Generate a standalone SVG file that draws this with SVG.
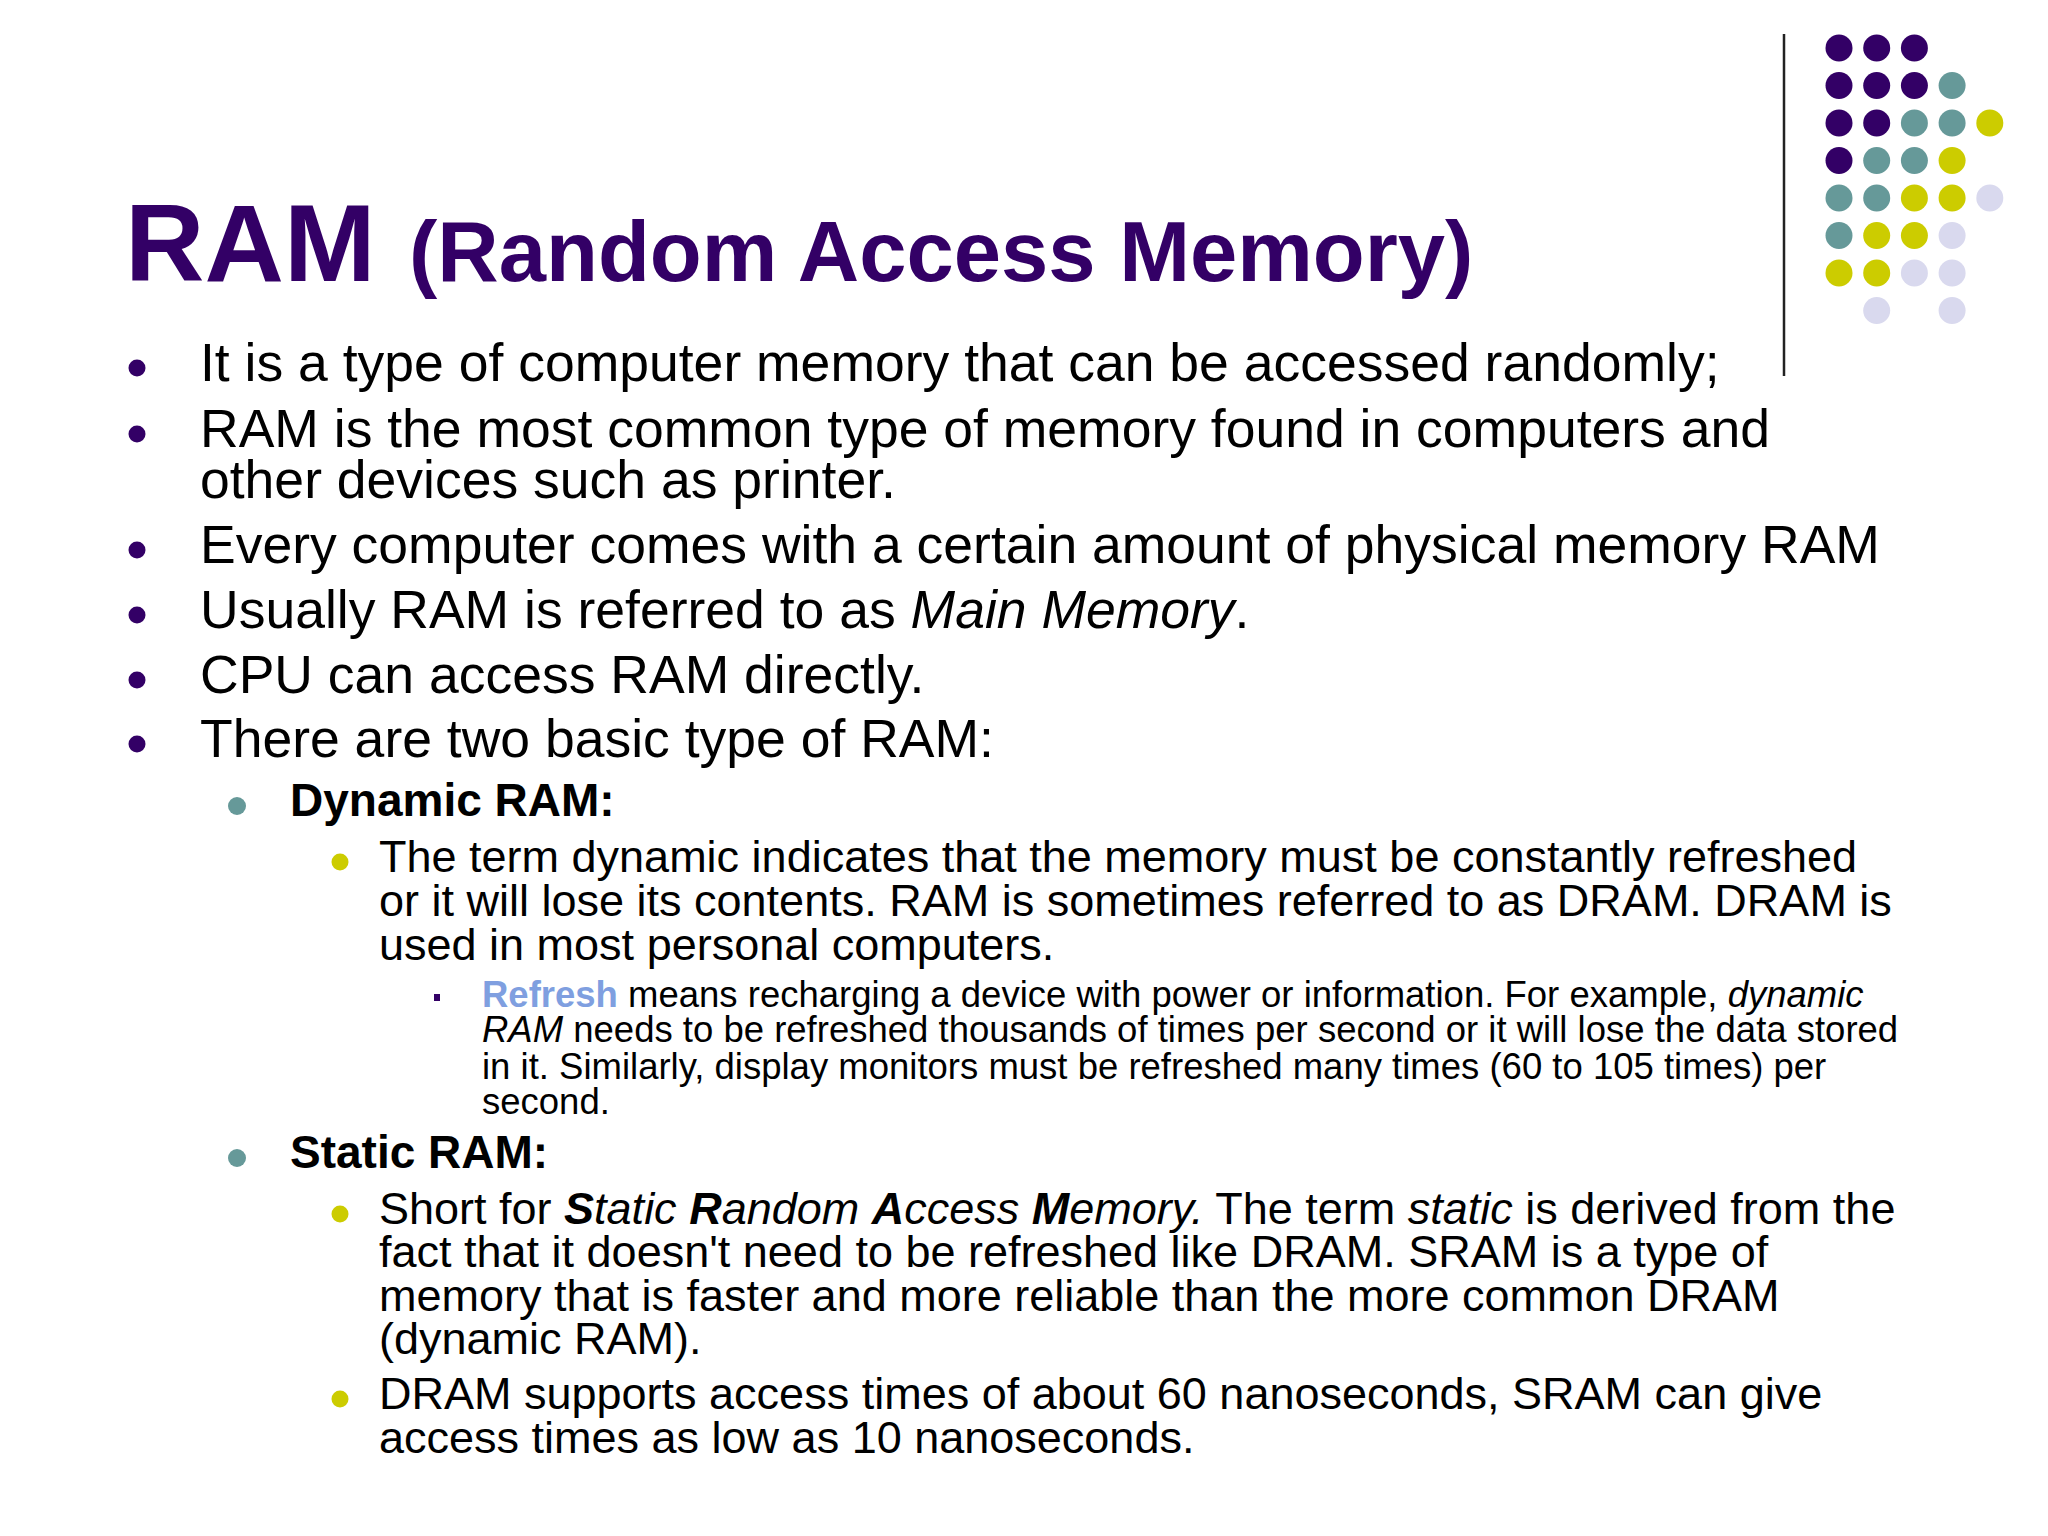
<svg xmlns="http://www.w3.org/2000/svg" width="2048" height="1536" viewBox="0 0 2048 1536">
<style>
text{font-family:"Liberation Sans",Arial,sans-serif;fill:#000}
.t1{font-size:53.5px}.t2{font-size:46px;font-weight:bold}.t3{font-size:45px}.t4{font-size:36.5px}
.P{fill:#330066}.T{fill:#669999}.Y{fill:#cccc00}.L{fill:#d9d9ee}
</style>
<rect width="2048" height="1536" fill="#fff"/>
<g id="decor">
<line x1="1784" y1="34" x2="1784" y2="376" stroke="#222" stroke-width="2.5"/>
<g transform="translate(1839,48)">
<circle class="P" cx="0" cy="0" r="13.5"/><circle class="P" cx="37.7" cy="0" r="13.5"/><circle class="P" cx="75.4" cy="0" r="13.5"/>
<circle class="P" cx="0" cy="37.5" r="13.5"/><circle class="P" cx="37.7" cy="37.5" r="13.5"/><circle class="P" cx="75.4" cy="37.5" r="13.5"/><circle class="T" cx="113.1" cy="37.5" r="13.5"/>
<circle class="P" cx="0" cy="75" r="13.5"/><circle class="P" cx="37.7" cy="75" r="13.5"/><circle class="T" cx="75.4" cy="75" r="13.5"/><circle class="T" cx="113.1" cy="75" r="13.5"/><circle class="Y" cx="150.8" cy="75" r="13.5"/>
<circle class="P" cx="0" cy="112.5" r="13.5"/><circle class="T" cx="37.7" cy="112.5" r="13.5"/><circle class="T" cx="75.4" cy="112.5" r="13.5"/><circle class="Y" cx="113.1" cy="112.5" r="13.5"/>
<circle class="T" cx="0" cy="150" r="13.5"/><circle class="T" cx="37.7" cy="150" r="13.5"/><circle class="Y" cx="75.4" cy="150" r="13.5"/><circle class="Y" cx="113.1" cy="150" r="13.5"/><circle class="L" cx="150.8" cy="150" r="13.5"/>
<circle class="T" cx="0" cy="187.5" r="13.5"/><circle class="Y" cx="37.7" cy="187.5" r="13.5"/><circle class="Y" cx="75.4" cy="187.5" r="13.5"/><circle class="L" cx="113.1" cy="187.5" r="13.5"/>
<circle class="Y" cx="0" cy="225" r="13.5"/><circle class="Y" cx="37.7" cy="225" r="13.5"/><circle class="L" cx="75.4" cy="225" r="13.5"/><circle class="L" cx="113.1" cy="225" r="13.5"/>
<circle class="L" cx="37.7" cy="262.5" r="13.5"/><circle class="L" cx="113.1" cy="262.5" r="13.5"/>
</g>
</g>
<g id="title">
<text x="125" y="281" style="font-size:110px;font-weight:bold;fill:#330066">RAM</text>
<text x="409" y="281" style="font-size:85px;font-weight:bold;fill:#330066">(Random Access Memory)</text>
</g>
<g id="bullets">
<circle class="P" cx="137" cy="368" r="8.5"/><circle class="P" cx="137" cy="434" r="8.5"/><circle class="P" cx="137" cy="550" r="8.5"/>
<circle class="P" cx="137" cy="615" r="8.5"/><circle class="P" cx="137" cy="680" r="8.5"/><circle class="P" cx="137" cy="744" r="8.5"/>
<circle class="T" cx="237" cy="806" r="9"/><circle class="T" cx="237" cy="1158" r="9"/>
<circle class="Y" cx="340" cy="862" r="8.5"/><circle class="Y" cx="340" cy="1214" r="8.5"/><circle class="Y" cx="340" cy="1399" r="8.5"/>
<rect class="P" x="434" y="994" width="6" height="7"/>
</g>
<g id="text">
<text class="t1" x="200" y="381">It is a type of computer memory that can be accessed randomly;</text>
<text class="t1" x="200" y="447">RAM is the most common type of memory found in computers and</text>
<text class="t1" x="200" y="498">other devices such as printer.</text>
<text class="t1" x="200" y="563">Every computer comes with a certain amount of physical memory RAM</text>
<text class="t1" x="200" y="628">Usually RAM is referred to as <tspan font-style="italic">Main Memory</tspan>.</text>
<text class="t1" x="200" y="693">CPU can access RAM directly.</text>
<text class="t1" x="200" y="757">There are two basic type of RAM:</text>
<text class="t2" x="290" y="816">Dynamic RAM:</text>
<text class="t3" x="379" y="872">The term dynamic indicates that the memory must be constantly refreshed</text>
<text class="t3" x="379" y="916">or it will lose its contents. RAM is sometimes referred to as DRAM. DRAM is</text>
<text class="t3" x="379" y="960">used in most personal computers.</text>
<text class="t4" x="482" y="1007"><tspan font-weight="bold" style="fill:#7f9fe0">Refresh</tspan> means recharging a device with power or information. For example, <tspan font-style="italic">dynamic</tspan></text>
<text class="t4" x="482" y="1042"><tspan font-style="italic">RAM</tspan> needs to be refreshed thousands of times per second or it will lose the data stored</text>
<text class="t4" x="482" y="1079">in it. Similarly, display monitors must be refreshed many times (60 to 105 times) per</text>
<text class="t4" x="482" y="1114">second.</text>
<text class="t2" x="290" y="1168">Static RAM:</text>
<text class="t3" x="379" y="1224">Short for <tspan font-style="italic"><tspan font-weight="bold">S</tspan>tatic <tspan font-weight="bold">R</tspan>andom <tspan font-weight="bold">A</tspan>ccess <tspan font-weight="bold">M</tspan>emory.</tspan> The term <tspan font-style="italic">static</tspan> is derived from the</text>
<text class="t3" x="379" y="1267">fact that it doesn't need to be refreshed like DRAM. SRAM is a type of</text>
<text class="t3" x="379" y="1311">memory that is faster and more reliable than the more common DRAM</text>
<text class="t3" x="379" y="1354">(dynamic RAM).</text>
<text class="t3" x="379" y="1409">DRAM supports access times of about 60 nanoseconds, SRAM can give</text>
<text class="t3" x="379" y="1453">access times as low as 10 nanoseconds.</text>
</g>
</svg>
